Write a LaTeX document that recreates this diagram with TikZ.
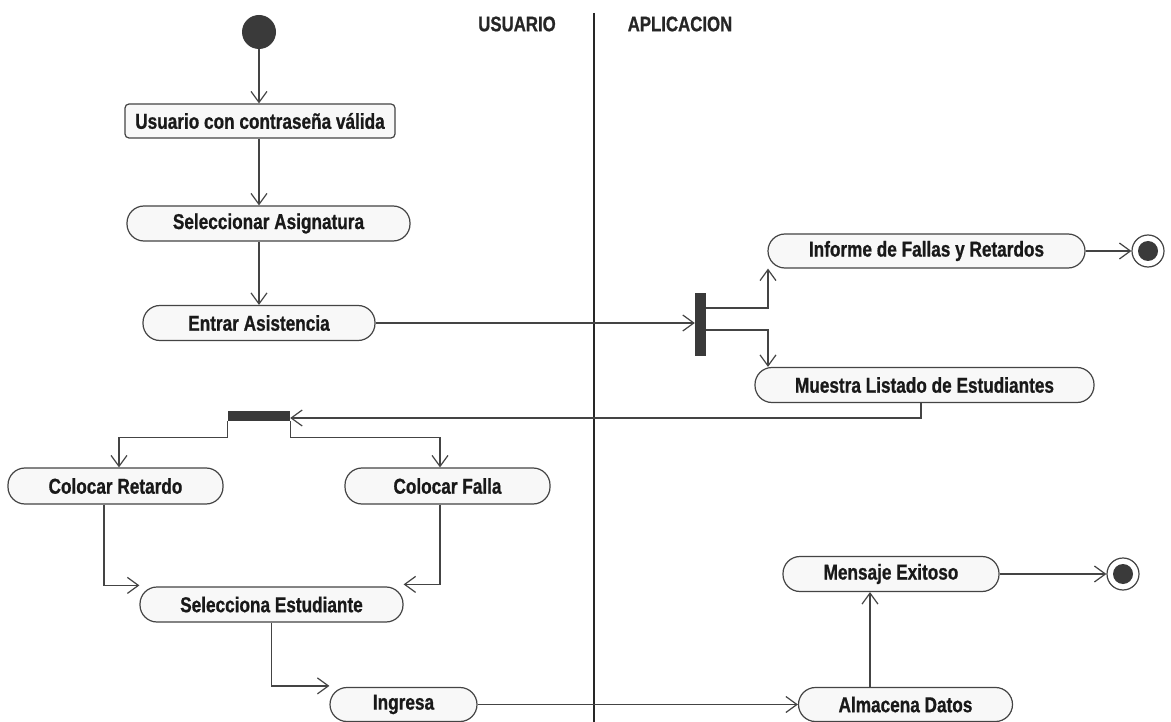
\documentclass[tikz,border=0pt]{standalone}
\usepackage{fontspec}
\newfontfamily\actfont{Liberation Sans}[FakeStretch=0.8, FakeBold=0.8]
\usetikzlibrary{arrows.meta}
\definecolor{ink}{HTML}{444444}
\definecolor{actfill}{HTML}{F8F8F8}
\definecolor{solid}{HTML}{3A3A3A}
\begin{document}
\begin{tikzpicture}[x=1pt,y=-1pt,
  act/.style={draw=ink, line width=1.2pt, fill=actfill, rounded corners=17pt,
    minimum height=35pt, inner sep=0pt, text=black!90,
    font=\actfont\bfseries\fontsize{21.5}{25}\selectfont},
  flow/.style={draw=ink, line width=1.2pt,
    -{Straight Barb[length=11pt,width=16pt,line width=1.2pt]}},
  bar/.style={fill=solid, draw=none, inner sep=0pt},
  initial/.style={circle, fill=solid, draw=none, minimum size=34pt, inner sep=0pt},
  final/.style={circle, draw=ink, fill=white, line width=1.2pt, minimum size=32pt, inner sep=0pt},
  dot/.style={fill=solid},
  lane/.style={font=\actfont\bfseries\fontsize{21}{25}\selectfont, text=black!85}
]
\clip (0,0) rectangle (1171,722);
\fill[white] (0,0) rectangle (1171,722);

% swimlanes
\draw[line width=1.2pt, black!85] (594,13) -- (594,722);
\node[lane] (usuario) at (517,24) {USUARIO};
\node[lane] (aplic) at (680,24) {APLICACION};

% user side
\node[initial] (start) at (259,32) {};
\node[act, rounded corners=4pt, minimum width=270pt, minimum height=34pt] (valid) at (260,121) {Usuario con contraseña válida};
\node[act, minimum width=283pt] (sel) at (268.5,223.5) {Seleccionar Asignatura};
\node[act, minimum width=232pt] (entrar) at (259,323) {Entrar Asistencia};

% application side
\node[bar, minimum width=11pt, minimum height=63pt] (fork) at (700.5,324.5) {};
\node[act, minimum width=317pt, minimum height=34pt] (informe) at (926.5,251) {Informe de Fallas y Retardos};
\node[final] (end1) at (1148,251) {};
\fill[dot] (end1.center) circle (10);
\node[act, minimum width=339pt] (muestra) at (924.5,385) {Muestra Listado de Estudiantes};

% marking branch
\node[bar, minimum width=62pt, minimum height=10pt] (join) at (259,416) {};
\node[act, minimum width=215pt, minimum height=36pt] (retardo) at (115.5,486) {Colocar Retardo};
\node[act, minimum width=205pt, minimum height=36pt] (falla) at (447.5,486) {Colocar Falla};
\node[act, minimum width=263pt] (selest) at (271.5,604.5) {Selecciona Estudiante};
\node[act, minimum width=147pt, minimum height=34pt] (ingresa) at (403.5,704.5) {Ingresa};

\node[act, minimum width=214pt, minimum height=34pt] (almacena) at (905.5,704.5) {Almacena Datos};
\node[act, minimum width=216pt] (mensaje) at (891,574) {Mensaje Exitoso};
\node[final] (end2) at (1123,574) {};
\fill[dot] (end2.center) circle (10);

% control flow
\draw[flow] (start.south) -- (start.south |- valid.north);
\draw[flow] (start.south |- valid.south) -- (start.south |- sel.north);
\draw[flow] (start.south |- sel.south) -- (start.south |- entrar.north);
\draw[flow] (entrar.east) -- (entrar.east -| fork.west);
\draw[flow] ([yshift=16.5pt]fork.east) -| ([xshift=-158.5pt]informe.south);
\draw[flow] ([yshift=-5.5pt]fork.east) -| ([xshift=-156.5pt]muestra.north);
\draw[flow] (informe.east) -- (end1);
\draw[flow] ([xshift=-3.5pt]muestra.south) |- ([yshift=-2pt]join.east);
\draw[flow] (join.south west) -- ++(0,16) -| ([xshift=3.5pt]retardo.north);
\draw[flow] (join.south east) -- ++(0,16) -| ([xshift=-7.5pt]falla.north);
\draw[flow] ([xshift=-11.5pt]retardo.south) |- ([yshift=1pt]selest.north west);
\draw[flow] ([xshift=-7.5pt]falla.south) |- ([yshift=2pt]selest.north east);
\draw[flow] (selest.south) |- ([yshift=1pt]ingresa.north west);
\draw[flow] (ingresa.east) -- (almacena.west);
\draw[flow] ([xshift=-35.5pt]almacena.north) -- ([xshift=-35.5pt]almacena.north |- mensaje.south);
\draw[flow] (mensaje.east) -- (end2);
\end{tikzpicture}
\end{document}
